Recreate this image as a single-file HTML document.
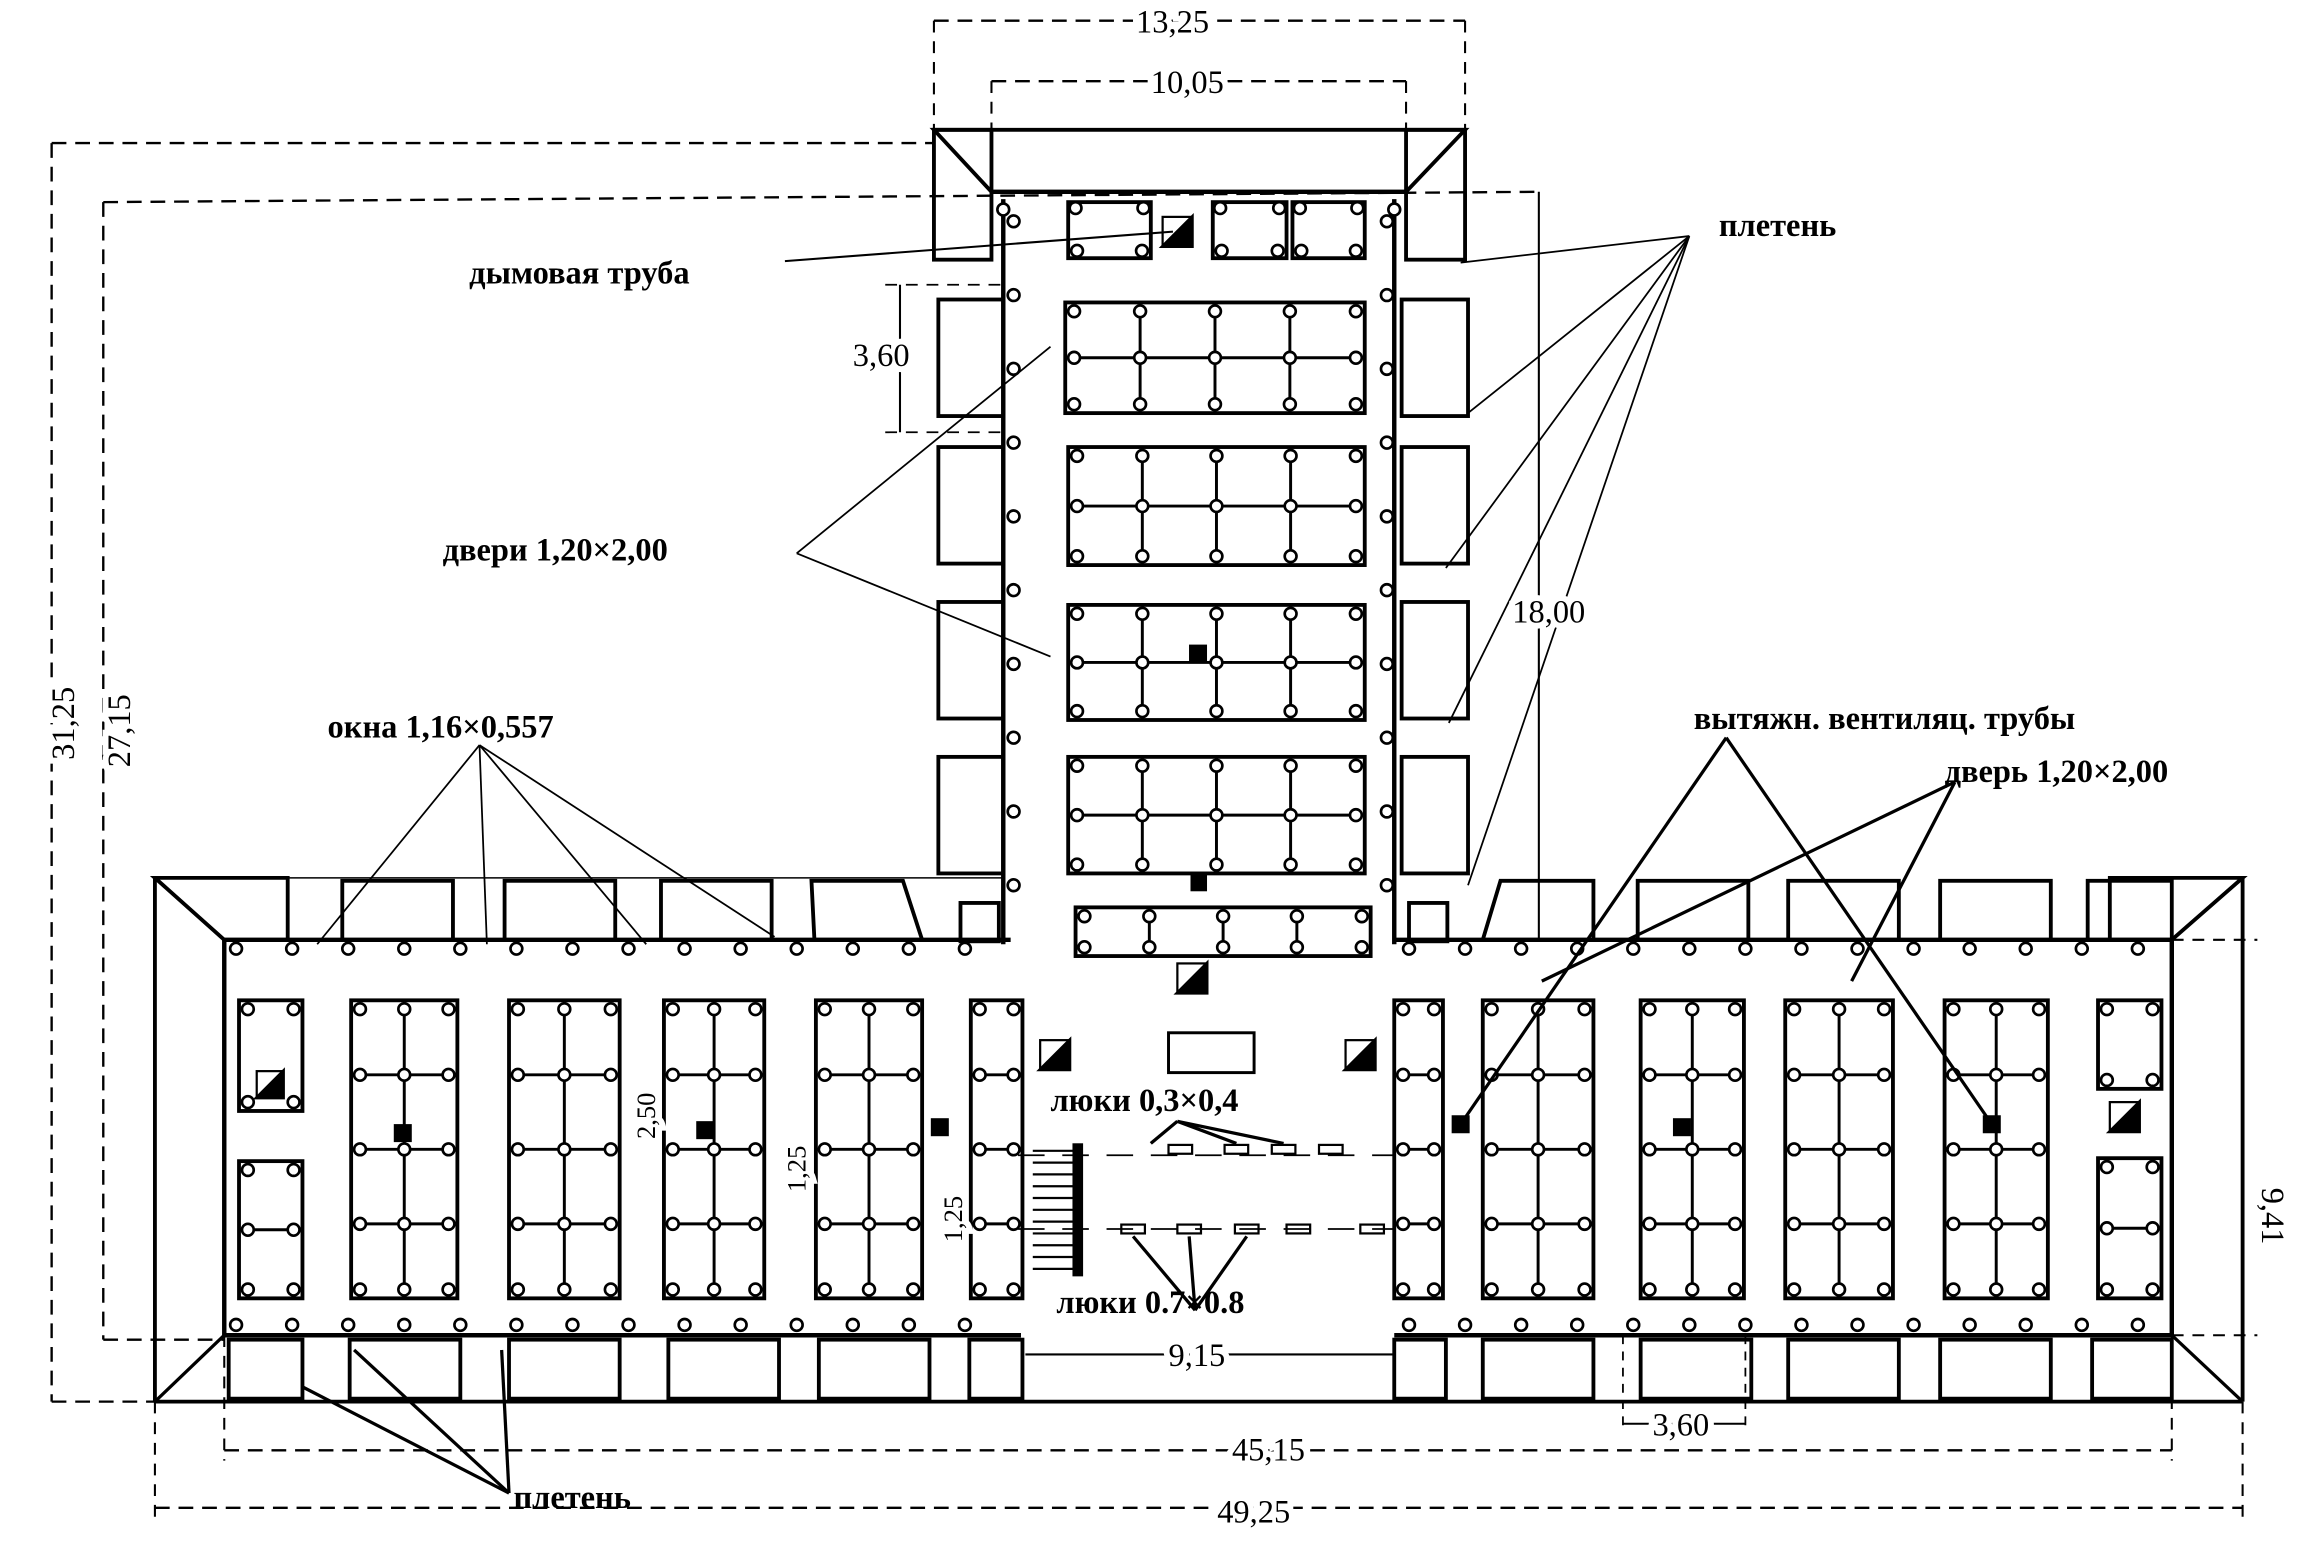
<!DOCTYPE html>
<html><head><meta charset="utf-8"><style>
html,body{margin:0;padding:0;background:#fff}
svg{display:block}
text{font-family:"Liberation Serif","DejaVu Serif",serif;fill:#000}
.d{stroke:#fff;stroke-width:8;paint-order:stroke;font-weight:normal}
</style></head><body>
<svg id="s" width="2309" height="1544" viewBox="0 0 1565 1046.5" preserveAspectRatio="none" xmlns="http://www.w3.org/2000/svg">
<g id="g" fill="none" stroke="#000" stroke-width="2.2"></g>
<g font-size="22" font-weight="bold">
<text x="318" y="192">дымовая труба</text>
<text x="1165" y="160">плетень</text>
<text x="300" y="380">двери 1,20×2,00</text>
<text x="222" y="500">окна 1,16×0,557</text>
<text x="1148" y="494">вытяжн. вентиляц. трубы</text>
<text x="1318" y="530">дверь 1,20×2,00</text>
<text x="712" y="753">люки 0,3×0,4</text>
<text x="716" y="890">люки 0.7×0.8</text>
<text x="348" y="1022">плетень</text>
<text class="d" x="770" y="22">13,25</text>
<text class="d" x="780" y="63">10,05</text>
<text class="d" x="578" y="248">3,60</text>
<text class="d" x="1025" y="422">18,00</text>
<text class="d" x="792" y="926">9,15</text>
<text class="d" x="835" y="990">45,15</text>
<text class="d" x="825" y="1032">49,25</text>
<text class="d" x="1120" y="973">3,60</text>
<text class="d" transform="translate(50,515) rotate(-90)">31,25</text>
<text class="d" transform="translate(88,520) rotate(-90)">27,15</text>
<text class="d" transform="translate(1533,805) rotate(90)">9,41</text>
<text class="d" transform="translate(444,772) rotate(-90)" font-size="18">2,50</text>
<text class="d" transform="translate(546,808) rotate(-90)" font-size="18">1,25</text>
<text class="d" transform="translate(652,842) rotate(-90)" font-size="18">1,25</text>
</g>
</svg>
<script>
const g=document.getElementById('g');const NS='http://www.w3.org/2000/svg';
function el(t,a){const e=document.createElementNS(NS,t);for(const k in a)e.setAttribute(k,a[k]);g.appendChild(e);return e;}
function L(x1,y1,x2,y2,w,d){el('line',{x1,y1,x2,y2,'stroke-width':w||2.2,'stroke-dasharray':d||''});}
function R(x,y,w,h,sw){el('rect',{x,y,width:w,height:h,'stroke-width':sw||2.6});}
function C(x,y,r,f){el('circle',{cx:x,cy:y,r:r||4,fill:f||'#fff','stroke-width':1.8});}
function P(pts,sw){el('polygon',{points:pts,'stroke-width':sw||2.6});}
function block(x,y,w,h,cols,rows){R(x,y,w,h,2.6);for(let i=1;i<cols;i++)L(x+w*i/cols,y,x+w*i/cols,y+h,2);for(let j=1;j<rows;j++)L(x,y+h*j/rows,x+w,y+h*j/rows,2);
 for(let i=0;i<=cols;i++)for(let j=0;j<=rows;j++){let cx=x+w*i/cols,cy=y+h*j/rows;cx+=i==0?6:(i==cols?-6:0);cy+=j==0?6:(j==rows?-6:0);C(cx,cy,4);}}
function chim(x,y,s){s=s||18;R(x-s/2,y-s/2,s,s,1.5);el('polygon',{points:`${x+s/2},${y-s/2} ${x+s/2},${y+s/2} ${x-s/2},${y+s/2}`,fill:'#000'});}
function dim(x1,y1,x2,y2){L(x1,y1,x2,y2,1.6,'10,6');}
// top wing
P('633,88 993,88 953,130 672,130');
L(633,88,633,175);L(993,88,993,175);
R(633,88,39,88);R(953,88,40,88);
L(672,130,953,130,3);L(680,135,680,640,3);L(945,135,945,640,3);
[[203,282],[303,382],[408,487],[513,592]].forEach(([a,b])=>{R(636,a,44,b-a);R(950,a,45,b-a);});
R(651,612,26,26);R(955,612,26,26);
[[724,780],[822,872],[876,925]].forEach(([a,b])=>{R(a,137,b-a,38);C(a+5,141);C(b-5,141);C(a+6,170);C(b-6,170);});
C(680,142);C(945,142);
for(let y=150;y<620;y+=50){C(687,y);C(940,y);}
block(722,205,203,75,4,2);block(724,303,201,80,4,2);block(724,410,201,78,4,2);block(724,513,201,79,4,2);block(729,615,200,33,4,1);
chim(798,157,20);el('rect',{x:807,y:438,width:10,height:10,fill:'#000'});el('rect',{x:808,y:594,width:9,height:9,fill:'#000'});chim(808,663,20);
// bottom wing outer
P('105,595 195,595 195,637 152,637');P('1520,595 1430,595 1430,637 1472,637');
L(105,595,105,950,2.6);L(1520,595,1520,950,2.6);L(105,950,1520,950,2.6);
L(105,950,152,905);L(1520,950,1472,905);L(105,595,152,637);L(1520,595,1472,637);
L(152,637,152,905,3);L(1472,637,1472,905,3);
L(152,637,685,637,3);L(945,637,1472,637,3);L(152,905,692,905,3);L(945,905,1472,905,3);
L(195,595,680,595,1);
[[232,307],[342,417],[448,523]].forEach(([a,b])=>R(a,597,b-a,40));
P('550,597 612,597 625,637 552,637');P('1017,597 1080,597 1080,637 1005,637');
[[1110,1185],[1212,1287],[1315,1390]].forEach(([a,b])=>R(a,597,b-a,40));
R(1415,597,57,40);
[[237,312],[345,420],[453,528],[555,630],[657,693],[945,980],[1005,1080],[1112,1187],[1212,1287],[1315,1390],[1418,1472]].forEach(([a,b])=>R(a,908,b-a,40));
R(155,908,50,40);
for(let x=160;x<690;x+=38){C(x,643);C(x,898);}
for(let x=955;x<1470;x+=38){C(x,643);C(x,898);}
// blocks
block(162,678,43,75,1,1);block(162,787,43,93,1,2);
block(238,678,72,202,2,4);block(345,678,75,202,2,4);block(450,678,68,202,2,4);block(553,678,72,202,2,4);block(658,678,35,202,1,4);
block(945,678,33,202,1,4);block(1005,678,75,202,2,4);block(1112,678,70,202,2,4);block(1210,678,73,202,2,4);block(1318,678,70,202,2,4);
block(1422,678,43,60,1,1);block(1422,785,43,95,1,2);
chim(183,735);chim(715,715,20);chim(922,715,20);chim(1440,757,20);
[[273,768],[478,766],[637,764],[990,762],[1140,764],[1350,762]].forEach(([x,y])=>el('rect',{x:x-5,y:y-5,width:10,height:10,fill:'#000'}));
// center
R(792,700,58,27,2);
el('rect',{x:728,y:776,width:5,height:88,fill:'#000'});
for(let y=780;y<862;y+=8)L(700,y,728,y,1.5);
[800,838,870,902].forEach(x=>R(x-8,776,16,6,1.5));
[768,806,845,880,930].forEach(x=>R(x-8,830,16,6,1.5));
L(690,783,945,783,1.2,'18,12');L(690,833,945,833,1.2,'18,12');
// dims
dim(633,14,993,14);L(633,14,633,88,1.4,'8,6');L(993,14,993,88,1.4,'8,6');
dim(672,55,953,55);L(672,55,672,130,1.4,'8,6');L(953,55,953,130,1.4,'8,6');
dim(35,97,35,950);dim(35,97,633,97);dim(35,950,105,950);
dim(70,137,70,908);dim(70,137,1043,130);dim(70,908,152,908);
L(1043,130,1043,637,1.4);L(1472,637,1530,637,1.4,'8,6');L(1472,905,1530,905,1.4,'8,6');L(1520,637,1520,905,1.4);
dim(152,983,1472,983);L(152,905,152,990,1.4,'8,6');L(1472,905,1472,990,1.4,'8,6');
dim(105,1022,1520,1022);L(105,950,105,1030,1.4,'8,6');L(1520,950,1520,1030,1.4,'8,6');
L(695,918,945,918,1.4);L(1100,965,1183,965,1.4);L(1100,905,1100,970,1.2,'6,5');L(1183,905,1183,970,1.2,'6,5');
L(610,193,610,293,1.4);L(600,193,680,193,1.2,'8,6');L(600,293,680,293,1.2,'8,6');
// leaders
L(532,177,795,157,1.4);
[[990,178],[995,280],[980,385],[982,490],[995,600]].forEach(([x,y])=>L(1145,160,x,y,1.2));
L(540,375,712,235,1.2);L(540,375,712,445,1.2);
[[215,640],[330,640],[438,640],[525,635]].forEach(([x,y])=>L(325,505,x,y,1.2));
L(1170,500,990,762);L(1170,500,1350,762);L(1325,530,1045,665);L(1325,530,1255,665);
L(345,1012,205,940);L(345,1012,240,915);L(345,1012,340,915);
L(798,760,780,775);L(798,760,838,775);L(798,760,870,775);
L(810,888,768,838);L(810,888,806,838);L(810,888,845,838);
</script>
</body></html>
